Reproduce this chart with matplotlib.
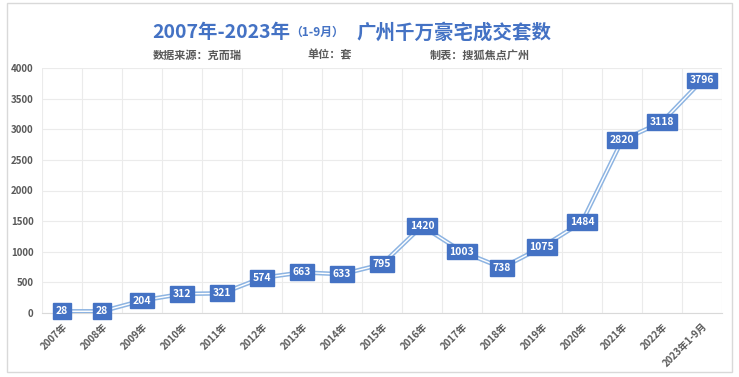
import matplotlib
matplotlib.use("Agg")
import matplotlib.pyplot as plt
from matplotlib.patches import Rectangle

plt.rcParams['font.family'] = ['Noto Sans CJK SC', 'DejaVu Sans']

categories = ["2007年", "2008年", "2009年", "2010年", "2011年", "2012年", "2013年",
              "2014年", "2015年", "2016年", "2017年", "2018年", "2019年", "2020年",
              "2021年", "2022年", "2023年1-9月"]
values = [28, 28, 204, 312, 321, 574, 663, 633, 795, 1420, 1003, 738, 1075, 1484,
          2820, 3118, 3796]
yticks = [0, 500, 1000, 1500, 2000, 2500, 3000, 3500, 4000]

W, H = 739, 377
fig = plt.figure(figsize=(W / 100, H / 100), dpi=100)
fig.patch.set_facecolor("white")

# outer frame
fig.patches.append(Rectangle((7 / W, 1 - 372 / H), (732 - 7) / W, (372 - 3) / H,
                             transform=fig.transFigure, fill=False,
                             edgecolor="#D9D9D9", lw=1.0))

ax = fig.add_axes([42 / W, 1 - 313 / H, (722 - 42) / W, (313 - 68) / H])
x = list(range(len(categories)))

ax.plot(x, values, color="#8DB4E2", lw=3.2, solid_capstyle="butt", zorder=3)
ax.plot(x, values, color="white", lw=1.0, zorder=4)

for xi, v in zip(x, values):
    ax.text(xi, v, str(v), ha="center", va="center", color="white",
            fontsize=7.5, fontweight="bold", zorder=5,
            bbox=dict(boxstyle="square,pad=0.28", fc="#4472C4", ec="#4472C4"))

ax.set_xlim(-0.5, len(categories) - 0.5)
ax.set_ylim(0, 4000)
ax.set_yticks(yticks)
ax.set_yticklabels([str(t) for t in yticks], fontsize=7, color="#595959",
                   fontweight="bold")
ax.set_xticks(x)
ax.set_xticklabels(categories, rotation=45, ha="right", rotation_mode="anchor",
                   fontsize=7, color="#595959", fontweight="bold")
ax.tick_params(axis="both", length=0)
ax.tick_params(axis="y", pad=6)
ax.tick_params(axis="x", pad=6)

ax.set_xticks([i - 0.5 for i in range(len(categories) + 1)], minor=True)
ax.grid(axis="y", color="#EBEBEB", lw=0.8)
ax.grid(axis="x", which="minor", color="#EBEBEB", lw=0.8)
ax.grid(axis="x", which="major", visible=False)
ax.tick_params(axis="x", which="minor", length=0)
for s in ["top", "right", "left"]:
    ax.spines[s].set_visible(False)
ax.spines["bottom"].set_color("#D9D9D9")
ax.set_axisbelow(True)

# title
ty = 1 - 33 / H
fig.text(152 / W, ty, "2007年-2023年", color="#4472C4", fontsize=14,
         fontweight="bold", ha="left", va="center")
fig.text(290 / W, ty + 0.003, "（1-9月）", color="#4472C4", fontsize=8.5,
         fontweight="bold", ha="left", va="center")
fig.text(356 / W, ty, "广州千万豪宅成交套数", color="#4472C4", fontsize=14,
         fontweight="bold", ha="left", va="center")

sy = 1 - 55 / H
fig.text(153 / W, sy, "数据来源：克而瑞", color="#595959", fontsize=8,
         fontweight="bold", ha="left", va="center")
fig.text(307 / W, sy, "单位：套", color="#595959", fontsize=8,
         fontweight="bold", ha="left", va="center")
fig.text(430 / W, sy, "制表：搜狐焦点广州", color="#595959", fontsize=8,
         fontweight="bold", ha="left", va="center")

fig.savefig("out.png", dpi=100)
